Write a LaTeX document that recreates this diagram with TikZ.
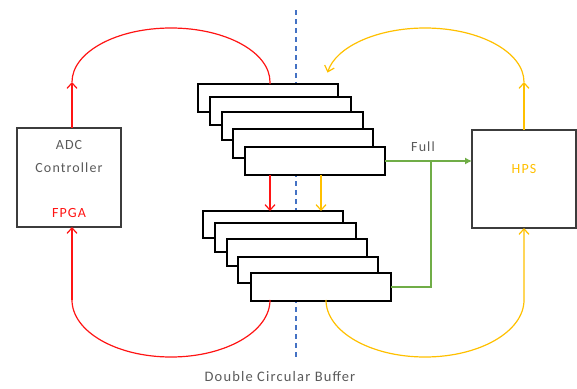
\documentclass[tikz,border=0pt]{standalone}
\usepackage{fontspec}
\newfontfamily\hand[LetterSpace=8]{Carlito}
\usetikzlibrary{arrows.meta}
\definecolor{cred}{RGB}{255,20,20}
\definecolor{cgold}{RGB}{255,192,0}
\definecolor{cgreen}{RGB}{112,173,71}
\definecolor{cblue}{RGB}{68,114,196}
\definecolor{ctext}{RGB}{90,90,90}
\definecolor{cbox}{RGB}{60,60,60}
\tikzset{
  buf/.style={draw=black, fill=white, line width=1.4pt, minimum width=140pt, anchor=north west, inner sep=0pt, outer sep=0pt},
  blk/.style={draw=cbox, fill=white, line width=1.1pt, minimum width=104pt, minimum height=99pt, anchor=north west, inner sep=0pt, outer sep=0pt},
  lbl/.style={font=\hand\fontsize{14}{16}\selectfont, text=ctext, inner sep=0pt},
  flow/.style={line width=1.2pt},
  barb/.style={-{Straight Barb[length=5.5pt,width=10pt]}},
}
\begin{document}
\begin{tikzpicture}[x=1pt,y=1pt]
\useasboundingbox (0,0) rectangle (577,-388);
% divider
\coordinate (dtop) at (296,-10);
\coordinate (dbot) at (296,-358);
\draw[cblue, line width=1.3pt, dash pattern=on 5pt off 4pt] (dtop) -- (dbot);
% blocks
\node[blk] (adc) at (17,-128) {};
\node[blk, minimum height=98pt] (hps) at (472,-130) {};
\node[lbl] (adct) at (69,-145) {ADC};
\node[lbl] (ctrl) at (69,-168) {Controller};
\node[lbl, text=cred] (fpga) at (69,-213) {FPGA};
\node[lbl, text=cgold] (hpst) at (524,-169) {HPS};
% top buffer
\node[buf, minimum height=28pt] (t1) at (198,-84) {};
\node[buf, minimum height=28pt, minimum width=141pt] (t2) at (210,-97) {};
\node[buf, minimum height=28pt, minimum width=141pt] (t3) at (222,-112) {};
\node[buf, minimum height=29pt] (t4) at (233,-129) {};
\node[buf, minimum height=28pt] (t5) at (245,-147) {};
% bottom buffer
\node[buf, minimum height=27pt] (b1) at (203,-211) {};
\node[buf, minimum height=29pt, minimum width=141pt] (b2) at (215,-223) {};
\node[buf, minimum height=27pt] (b3) at (227,-239) {};
\node[buf, minimum height=26pt] (b4) at (238,-257) {};
\node[buf, minimum height=28pt] (b5) at (251,-273) {};
% red transfers
\coordinate (rt) at (72,-82);
\coordinate (rb) at (72,-300);
\draw[cred, flow, barb] (adc.north -| rt) -- (rt);
\draw[cred, flow] (rt) arc[start angle=180, end angle=0, x radius=99, y radius=54] -- (t1.north -| 270,0);
\draw[cred, flow, barb] (t5.south -| 270,0) -- (b1.north -| 270,0);
\draw[cred, flow, barb] (rb) -- (adc.south -| rb);
\draw[cred, flow] (rb) arc[start angle=180, end angle=360, x radius=99, y radius=57] -- (b5.south -| 270,0);
% gold transfers
\coordinate (yt) at (524,-82);
\coordinate (yb) at (326,-300);
\draw[cgold, flow, barb] (hps.north -| yt) -- (yt);
\draw[cgold, flow, barb] (yt) arc[start angle=0, end angle=170, x radius=99, y radius=54];
\draw[cgold, flow, barb] (t5.south -| 321,0) -- (b1.north -| 321,0);
\draw[cgold, flow, barb] (b5.south -| yb) -- (yb) arc[start angle=180, end angle=360, x radius=99, y radius=57] -- (hps.south -| 524,0);
% green full signal
\coordinate (j) at (431,-161);
\draw[cgreen, flow, -{Latex[length=7pt,width=7pt]}] (t5.east) -- (t5.east -| hps.west);
\draw[cgreen, flow] (j) |- (b5.east);
\node[lbl] (full) at (423,-147) {Full};
% caption
\node[lbl, font=\hand\fontsize{14.5}{16}\selectfont] (cap) at (280,-377) {Double Circular Buffer};
\end{tikzpicture}
\end{document}
